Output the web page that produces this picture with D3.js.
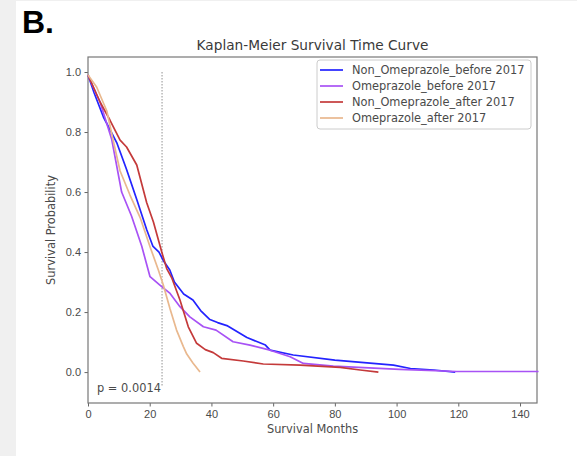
<!DOCTYPE html>
<html lang="en">
<head>
<meta charset="UTF-8">
<title>Kaplan-Meier Survival Time Curve</title>
<script src="https://d3js.org/d3.v7.min.js"></script>
<style>
  body { margin: 0; background: #f0f0f0; }
  svg { display: block; font-family: "DejaVu Sans", sans-serif; }
  .tick text { fill: #4a4a4a; font-size: 11px; }
  .tick line { stroke: #666; }
  .domain { stroke: none; }
</style>
</head>
<body>
<div id="chart"></div>
<script>
// survival curves (months, probability)
const blueT   = [0, 2, 5, 9.3, 12.5, 15.8, 19, 21, 23, 24.5, 26.5, 28, 31, 34, 36.5, 39.5, 42, 45, 51.5, 57.5, 59, 66.5, 80, 99, 104.5, 112, 119];
const blueS   = [0.99, 0.93, 0.85, 0.765, 0.675, 0.575, 0.475, 0.42, 0.4, 0.37, 0.34, 0.3, 0.26, 0.24, 0.205, 0.175, 0.165, 0.155, 0.115, 0.09, 0.073, 0.057, 0.04, 0.023, 0.012, 0.007, 0.0];
const purpleT = [0, 1.7, 3.9, 7.7, 10.9, 14.1, 17.4, 20.1, 23.3, 26.6, 29.8, 33, 37.4, 41.5, 47, 52.5, 59, 65.5, 69.8, 79.5, 101, 119.5, 146];
const purpleS = [0.99, 0.95, 0.9, 0.775, 0.6, 0.52, 0.42, 0.318, 0.29, 0.262, 0.218, 0.184, 0.151, 0.14, 0.101, 0.09, 0.073, 0.051, 0.029, 0.02, 0.009, 0.002, 0.002];
const redT    = [0, 3.9, 7.1, 10.4, 12.5, 15.8, 19, 21.2, 23.9, 25.5, 27.1, 29.8, 32.5, 35.2, 38, 40.6, 43.3, 50.3, 56.8, 68.7, 81.7, 88.2, 94.1];
const redS    = [0.99, 0.9, 0.84, 0.773, 0.75, 0.69, 0.565, 0.5, 0.4, 0.345, 0.315, 0.24, 0.151, 0.096, 0.075, 0.065, 0.046, 0.037, 0.027, 0.023, 0.016, 0.007, 0.0];
const orangeT = [0, 2.8, 6.1, 8.2, 10.4, 13.6, 16.9, 20.1, 22.8, 24.4, 26.6, 28.7, 30.9, 32, 34, 36.3];
const orangeS = [0.99, 0.95, 0.87, 0.77, 0.67, 0.59, 0.515, 0.418, 0.34, 0.29, 0.21, 0.14, 0.085, 0.06, 0.03, 0.0];

const names = ["Non_Omeprazole_before 2017", "Omeprazole_before 2017", "Non_Omeprazole_after 2017", "Omeprazole_after 2017"];
const colors = ["#2323ff", "#a852f5", "#c43a3a", "#e9b88e"];
const xTicks = [0, 20, 40, 60, 80, 100, 120, 140];
const yTicks = [0.0, 0.2, 0.4, 0.6, 0.8, 1.0];
const cutoff = 24;
const pText = "p = 0.0014";

const series = [[blueT, blueS], [purpleT, purpleS], [redT, redS], [orangeT, orangeS]]
  .map(([t, s], i) => ({ name: names[i], color: colors[i], pts: t.map((v, j) => [v, s[j]]) }));

const W = 577, H = 456;
const m = { left: 88, right: 537, top: 57, bottom: 403 };

const svg = d3.select("#chart").append("svg").attr("width", W).attr("height", H);
svg.append("rect").attr("x", 16).attr("y", 1).attr("width", W - 16).attr("height", H - 1).attr("fill", "#fff");

svg.append("text").attr("x", 22).attr("y", 33)
  .attr("font-family", "Liberation Sans, Arial, sans-serif").attr("font-weight", "bold")
  .attr("font-size", 32).attr("fill", "#000").text("B.");

const x = d3.scaleLinear().domain([0, 145.5]).range([m.left, m.right]);
const y = d3.scaleLinear().domain([-0.103, 1.05]).range([m.bottom, m.top]);

// axes
svg.append("g").attr("transform", `translate(0,${m.bottom})`)
  .call(d3.axisBottom(x).tickValues(xTicks).tickFormat(d3.format("d")).tickSize(3.5).tickPadding(3.5));
svg.append("g").attr("transform", `translate(${m.left},0)`)
  .call(d3.axisLeft(y).tickValues(yTicks).tickFormat(d3.format(".1f")).tickSize(3.5).tickPadding(3.5));

// spines
svg.append("rect").attr("x", m.left).attr("y", m.top).attr("width", m.right - m.left).attr("height", m.bottom - m.top)
  .attr("fill", "none").attr("stroke", "#777").attr("stroke-width", 1.2);

// cutoff line
svg.append("line").attr("x1", x(cutoff)).attr("x2", x(cutoff)).attr("y1", y(1.0)).attr("y2", y(-0.05))
  .attr("stroke", "#bbb").attr("stroke-width", 1.6).attr("stroke-dasharray", "1.5,1.5");

const line = d3.line().x(d => x(d[0])).y(d => y(d[1]));
svg.append("g").selectAll("path").data(series).join("path")
  .attr("d", d => line(d.pts)).attr("fill", "none")
  .attr("stroke", d => d.color).attr("stroke-width", 1.7).attr("stroke-linejoin", "round");

svg.append("text").attr("x", 97).attr("y", 392).attr("font-size", 11.4).attr("fill", "#4a4a4a").text(pText);

// titles
svg.append("text").attr("x", (m.left + m.right) / 2).attr("y", 50).attr("text-anchor", "middle")
  .attr("font-size", 13.7).attr("fill", "#3a3a3a").text("Kaplan-Meier Survival Time Curve");
svg.append("text").attr("x", (m.left + m.right) / 2).attr("y", 433).attr("text-anchor", "middle")
  .attr("font-size", 11.4).attr("fill", "#4a4a4a").text("Survival Months");
svg.append("text").attr("transform", `translate(55,${(m.top + m.bottom) / 2}) rotate(-90)`).attr("text-anchor", "middle")
  .attr("font-size", 11.4).attr("fill", "#4a4a4a").text("Survival Probability");

// legend
const lg = svg.append("g");
lg.append("rect").attr("x", 317).attr("y", 60).attr("width", 214).attr("height", 69).attr("rx", 3)
  .attr("fill", "#fff").attr("fill-opacity", 0.8).attr("stroke", "#ccc");
const rows = lg.selectAll("g").data(series).join("g")
  .attr("transform", (d, i) => `translate(0,${70 + i * 16})`);
rows.append("line").attr("x1", 320).attr("x2", 343).attr("stroke", d => d.color).attr("stroke-width", 1.7);
rows.append("text").attr("x", 352).attr("y", 4).attr("font-size", 11.4).attr("fill", "#4a4a4a").text(d => d.name);
</script>
</body>
</html>
